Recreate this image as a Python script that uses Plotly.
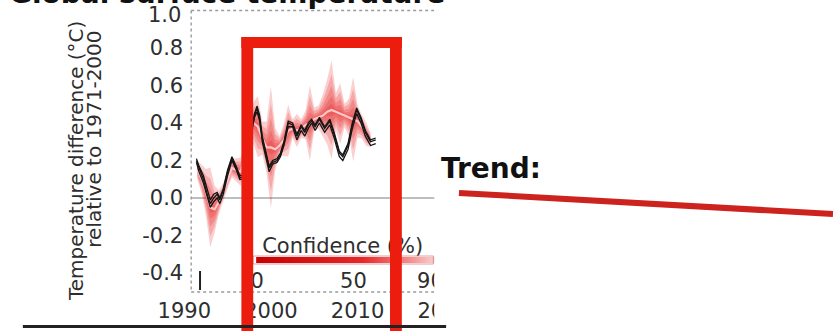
import plotly.graph_objects as go

W, H = 833, 331


def fx(p):
    """pixel column -> paper x"""
    return p / W


def fy(p):
    """pixel row (from top) -> paper y"""
    return 1 - p / H


# --- observational datasets (temperature anomaly, degC, rel. to 1971-2000) ---
obs_years = [1991.4, 1991.7, 1992.2, 1992.7, 1993.0, 1993.4, 1993.8, 1994.1, 1994.5,
             1995.0, 1995.5, 1996.0, 1996.4, 1996.9, 1997.4, 1997.8, 1998.1, 1998.4,
             1998.7, 1999.0, 1999.5, 1999.8, 2000.2, 2000.7, 2001.1, 2001.5, 2002.0,
             2002.5, 2003.0, 2003.5, 2003.9, 2004.3, 2004.7, 2005.1, 2005.6, 2006.2,
             2006.8, 2007.3, 2007.9, 2008.3, 2008.9, 2009.4, 2009.9, 2010.4, 2010.9,
             2011.5, 2012.1]
obs_a = [0.21, 0.17, 0.12, 0.03, -0.01, 0.02, 0.03, 0.00, 0.05, 0.15, 0.22, 0.17, 0.12,
         0.12, 0.25, 0.38, 0.45, 0.49, 0.44, 0.33, 0.24, 0.17, 0.20, 0.21, 0.24, 0.30,
         0.41, 0.40, 0.34, 0.39, 0.36, 0.40, 0.42, 0.39, 0.43, 0.38, 0.42, 0.35, 0.25,
         0.23, 0.29, 0.40, 0.48, 0.43, 0.36, 0.31, 0.32]
obs_b = [0.19, 0.14, 0.08, -0.01, -0.05, -0.02, 0.00, -0.03, 0.02, 0.12, 0.20, 0.15, 0.10,
         0.10, 0.22, 0.35, 0.43, 0.46, 0.41, 0.30, 0.21, 0.14, 0.18, 0.19, 0.22, 0.28,
         0.38, 0.38, 0.31, 0.36, 0.33, 0.37, 0.40, 0.36, 0.40, 0.35, 0.39, 0.32, 0.22,
         0.20, 0.26, 0.37, 0.45, 0.40, 0.33, 0.28, 0.29]
obs_c = [0.20, 0.16, 0.10, 0.01, -0.03, 0.00, 0.02, -0.01, 0.04, 0.14, 0.21, 0.16, 0.11,
         0.11, 0.24, 0.37, 0.44, 0.48, 0.42, 0.32, 0.23, 0.16, 0.19, 0.20, 0.23, 0.29,
         0.40, 0.39, 0.33, 0.38, 0.35, 0.39, 0.41, 0.38, 0.42, 0.37, 0.41, 0.34, 0.24,
         0.22, 0.28, 0.39, 0.47, 0.42, 0.35, 0.30, 0.31]

# --- ensemble estimate: central value and spread (degC) ---
ens_years = [1991.5, 1992.0, 1992.5, 1993.0, 1993.5, 1994.0, 1994.5, 1995.0, 1995.5,
             1996.0, 1996.5, 1997.0, 1997.5, 1998.0, 1998.5, 1999.0, 1999.5, 2000.0,
             2000.5, 2001.0, 2001.5, 2002.0, 2002.5, 2003.0, 2003.5, 2004.0, 2004.5,
             2005.0, 2005.5, 2006.0, 2006.5, 2007.0, 2007.5, 2008.0, 2008.5, 2009.0,
             2009.5, 2010.0, 2010.5, 2011.0, 2011.5]
ens_mean = [0.15, 0.10, 0.03, -0.05, -0.06, -0.02, 0.03, 0.10, 0.16, 0.15, 0.14, 0.22,
            0.32, 0.40, 0.38, 0.32, 0.27, 0.27, 0.26, 0.28, 0.31, 0.36, 0.37, 0.36,
            0.37, 0.39, 0.40, 0.42, 0.43, 0.44, 0.46, 0.47, 0.46, 0.45, 0.44, 0.43,
            0.42, 0.41, 0.38, 0.34, 0.31]
ens_spread = [0.04, 0.06, 0.10, 0.17, 0.10, 0.05, 0.04, 0.04, 0.04, 0.05, 0.06, 0.05,
              0.07, 0.09, 0.13, 0.07, 0.11, 0.26, 0.09, 0.04, 0.07, 0.11, 0.04, 0.07,
              0.04, 0.06, 0.16, 0.05, 0.05, 0.09, 0.14, 0.21, 0.08, 0.13, 0.05, 0.08,
              0.18, 0.07, 0.05, 0.05, 0.03]

# --- axes ---
x_ticks = [1990, 2000, 2010, 2020]
y_ticks = [-0.4, -0.2, 0.0, 0.2, 0.4, 0.6, 0.8]
y_tick_text = ["-0.4", "-0.2", "0.0", "0.2", "0.4", "0.6", "0.8"]
y_top_label = "1.0"
conf_ticks = [0, 50, 90]
conf_levels = list(range(0, 101))

TICK_FONT = dict(family="DejaVu Sans", size=21, color="#2e2e2e")
BOX_RED = "rgb(236,28,14)"

fig = go.Figure()

# confidence shading: nested bands around the ensemble estimate
for k in [1.25, 0.9, 0.6, 0.35, 0.15]:
    upper = [m + k * s for m, s in zip(ens_mean, ens_spread)]
    lower = [m - k * s for m, s in zip(ens_mean, ens_spread)]
    fig.add_trace(go.Scatter(
        x=ens_years + ens_years[::-1], y=upper + lower[::-1],
        fill="toself", fillcolor="rgba(228,15,15,0.2)",
        line=dict(width=0), mode="lines", hoverinfo="skip", showlegend=False,
    ))
fig.add_trace(go.Scatter(x=ens_years, y=ens_mean, mode="lines",
                         line=dict(color="rgba(255,205,205,0.95)", width=2.2),
                         showlegend=False))

for series in (obs_b, obs_c, obs_a):
    fig.add_trace(go.Scatter(x=obs_years, y=series, mode="lines",
                             line=dict(color="#151515", width=1.3), showlegend=False))

# confidence colour bar
fig.add_trace(go.Heatmap(
    x=conf_levels, y=[0.5], z=[conf_levels], xaxis="x2", yaxis="y2",
    zmin=0, zmax=100, showscale=False,
    colorscale=[[0, "rgb(200,0,0)"], [0.55, "rgb(230,40,40)"],
                [0.8, "rgb(242,145,145)"], [1, "rgb(255,242,242)"]],
))

px_per_year = 8.8
x0_year = 1990 - (174 - 160) / px_per_year
px_per_pct = (424 - 248) / 90
c0 = -(248 - 244) / px_per_pct

fig.update_layout(
    width=W, height=H, margin=dict(l=0, r=0, t=0, b=0),
    paper_bgcolor="white", plot_bgcolor="rgba(0,0,0,0)",
    xaxis=dict(domain=[fx(160), fx(470)],
               range=[x0_year, x0_year + (470 - 160) / px_per_year],
               tickvals=x_ticks, ticks="", showline=False, showgrid=False,
               zeroline=False, tickfont=TICK_FONT, ticklabelstandoff=4, anchor="y"),
    yaxis=dict(domain=[fy(291.75), fy(10.5)], range=[-0.5, 1.0],
               tickvals=y_ticks, ticktext=y_tick_text, ticks="", showline=False,
               showgrid=False, zeroline=False, tickfont=TICK_FONT,
               anchor="free", position=fx(181), ticklabelstandoff=8),
    xaxis2=dict(domain=[fx(244), fx(470)],
                range=[c0, c0 + (470 - 244) / px_per_pct],
                tickvals=conf_ticks, ticks="", showline=False, showgrid=False,
                zeroline=False, tickfont=TICK_FONT, ticklabelstandoff=3, anchor="y2"),
    yaxis2=dict(domain=[fy(263), fy(257)], range=[0, 1], visible=False, anchor="x2"),
)

shapes = []
# zero line and dotted frame
shapes.append(dict(type="line", xref="paper", yref="y", x0=fx(181), x1=fx(430),
                   y0=0, y1=0, line=dict(color="#a8a8a8", width=1.5), layer="below"))
for (a, b, c, d) in [(181, 10.5, 181, 292), (181, 10.5, 430, 10.5), (181, 292, 430, 292)]:
    shapes.append(dict(type="line", xref="paper", yref="paper",
                       x0=fx(a), y0=fy(b), x1=fx(c), y1=fy(d),
                       line=dict(color="#9a9a9a", width=1.4, dash="dot"), layer="below"))
shapes.append(dict(type="line", xref="paper", yref="paper", x0=fx(190), x1=fx(190),
                   y0=fy(271), y1=fy(290), line=dict(color="#222", width=2)))
# colour-bar caption
shapes.append(dict(type="rect", xref="paper", yref="paper",
                   x0=fx(248), x1=fx(430), y0=fy(254), y1=fy(234),
                   line=dict(width=0), fillcolor="rgba(0,0,0,0)", layer="above",
                   label=dict(text="Confidence (%)", textposition="middle left",
                              padding=2, font=dict(family="DejaVu Sans", size=21,
                                                   color="#2e2e2e"))))
shapes.append(dict(type="rect", xref="paper", yref="paper",
                   x0=fx(244), x1=fx(427), y0=fy(264), y1=fy(256),
                   line=dict(color="rgba(205,120,120,0.7)", width=1),
                   fillcolor="rgba(0,0,0,0)", layer="above"))
# right-hand page area
shapes.append(dict(type="rect", xref="paper", yref="paper",
                   x0=fx(428), x1=fx(833), y0=0, y1=1,
                   line=dict(width=0), fillcolor="white", layer="above"))
# highlight box
for (a, b, c, d) in [(232, 37, 244, 331), (383, 37, 395, 331), (232, 37, 395, 48)]:
    shapes.append(dict(type="rect", xref="paper", yref="paper",
                       x0=fx(a), x1=fx(c), y0=fy(d), y1=fy(b),
                       line=dict(width=0), fillcolor=BOX_RED, layer="above"))
# slide rule under the panel
shapes.append(dict(type="line", xref="paper", yref="paper", x0=fx(10), x1=fx(440),
                   y0=fy(326.5), y1=fy(326.5), line=dict(color="#222", width=3),
                   layer="above"))
# trend stroke
shapes.append(dict(type="line", xref="paper", yref="paper", x0=fx(453), x1=fx(833),
                   y0=fy(193), y1=fy(214), line=dict(color="rgb(205,35,30)", width=6),
                   layer="above"))
fig.update_layout(shapes=shapes)

ann = []
# top y tick label sits slightly below the frame edge
ann.append(dict(text=y_top_label, x=fx(173), y=fy(15), xref="paper", yref="paper",
                showarrow=False, xanchor="right", yanchor="middle",
                font=TICK_FONT))
ann.append(dict(text="Temperature difference (°C)", x=fx(64), y=fy(161),
                xref="paper", yref="paper", showarrow=False, textangle=-90,
                xanchor="center", yanchor="middle",
                font=dict(family="DejaVu Sans", size=20, color="#2e2e2e")))
ann.append(dict(text="relative to 1971-2000", x=fx(82), y=fy(139),
                xref="paper", yref="paper", showarrow=False, textangle=-90,
                xanchor="center", yanchor="middle",
                font=dict(family="DejaVu Sans", size=20, color="#2e2e2e")))
ann.append(dict(text="<b>Trend:</b>", x=fx(433), y=fy(168), xref="paper", yref="paper",
                showarrow=False, xanchor="left", yanchor="middle",
                font=dict(family="DejaVu Sans", size=28, color="#111111")))
ann.append(dict(text="<b>Global surface temperature</b>", x=fx(-6), y=fy(12),
                xref="paper", yref="paper", showarrow=False, xanchor="left",
                yanchor="bottom", font=dict(family="DejaVu Sans", size=28, color="#111")))
fig.update_layout(annotations=ann)

fig.write_html("out.html")
